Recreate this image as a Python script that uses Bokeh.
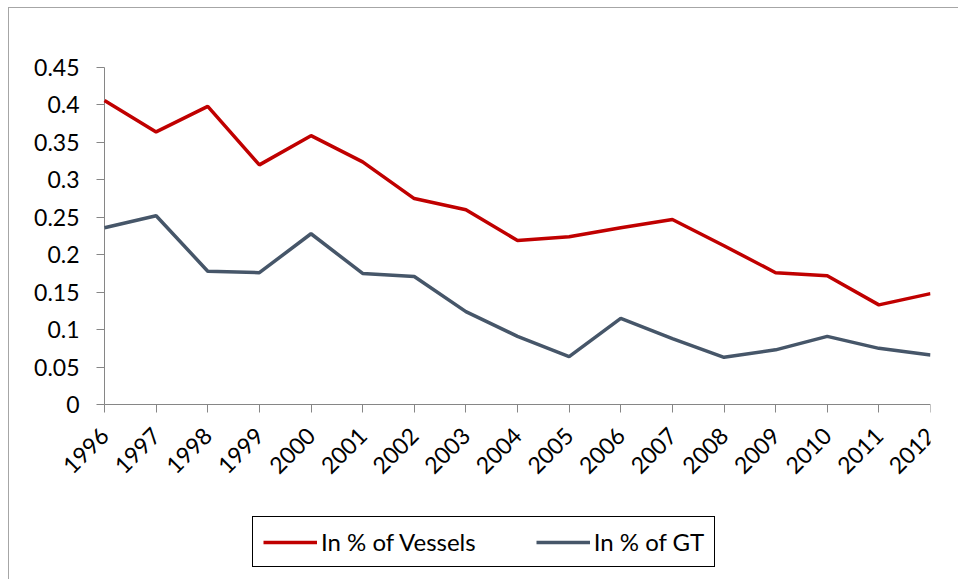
from bokeh.plotting import figure
from bokeh.models import Legend, LegendItem, FixedTicker, Range1d
from bokeh.embed import file_html
from bokeh.resources import INLINE

years = list(range(1996, 2013))
vessels = [0.406, 0.364, 0.398, 0.320, 0.359, 0.324, 0.275, 0.260, 0.219,
           0.224, 0.236, 0.247, 0.212, 0.176, 0.172, 0.133, 0.148]
gt = [0.236, 0.252, 0.178, 0.176, 0.228, 0.175, 0.171, 0.124, 0.091,
      0.064, 0.115, 0.088, 0.063, 0.073, 0.091, 0.075, 0.066]
y_ticks = [0, 0.05, 0.1, 0.15, 0.2, 0.25, 0.3, 0.35, 0.4, 0.45]
y_tick_labels = ["0", "0.05", "0.1", "0.15", "0.2", "0.25", "0.3", "0.35", "0.4", "0.45"]
series_names = ["In % of Vessels", "In % of GT"]

FONT = "Lato"
AXIS_GRAY = "#868686"

# Frame spans the canvas area x 20..930, y 40..580 so that the axes
# (pinned with fixed_location) and the legend are drawn inside it.
# Plot area proper: x 104..930 for 1996..2012, y 404..67 for 0..0.45.
x_min = years[0] - (104 - 20) * (years[-1] - years[0]) / 826
y_max = y_ticks[-1] * (404 - 40) / 337
y_min = -y_ticks[-1] * 176 / 337

p = figure(width=950, height=572, output_backend="svg", toolbar_location=None,
           x_range=Range1d(x_min, years[-1]), y_range=Range1d(y_min, y_max),
           min_border_left=11, min_border_right=29, min_border_top=32,
           min_border_bottom=0)
p.styles = {"margin-left": "8px", "margin-top": "7px",
            "border-left": "1px solid #a6a6a6", "border-top": "1px solid #a6a6a6"}
p.outline_line_color = None
p.xgrid.visible = False
p.ygrid.visible = False

# axis lines limited to the data area
p.segment(x0=[years[0]], y0=[y_ticks[0]], x1=[years[0]], y1=[y_ticks[-1]],
          line_color=AXIS_GRAY, line_width=1)
p.segment(x0=[years[0]], y0=[y_ticks[0]], x1=[years[-1]], y1=[y_ticks[0]],
          line_color=AXIS_GRAY, line_width=1)

r1 = p.line(years, vessels, line_color="#C00000", line_width=3.5)
r2 = p.line(years, gt, line_color="#465669", line_width=3.5)

for ax in (p.xaxis[0], p.yaxis[0]):
    ax.axis_line_color = None
    ax.major_tick_line_color = AXIS_GRAY
    ax.major_tick_out = 8
    ax.major_tick_in = 0
    ax.minor_tick_line_color = None
    ax.major_label_text_font = FONT
    ax.major_label_text_font_size = "23px"
    ax.major_label_text_color = "black"

p.xaxis.fixed_location = y_ticks[0]
p.xaxis.ticker = FixedTicker(ticks=years)
p.xaxis.major_label_orientation = 0.785398
p.xaxis.major_label_standoff = 19
p.yaxis.fixed_location = years[0]
p.yaxis.ticker = FixedTicker(ticks=y_ticks)
p.yaxis.major_label_overrides = {t: l for t, l in zip(y_ticks, y_tick_labels)}
p.yaxis.major_label_standoff = 17

legend = Legend(items=[LegendItem(label=series_names[0], renderers=[r1]),
                       LegendItem(label=series_names[1], renderers=[r2])],
                orientation="horizontal", location=(232, 13),
                label_text_font=FONT, label_text_font_size="24px",
                label_text_color="black",
                glyph_width=54, glyph_height=24, label_height=24,
                label_standoff=4, spacing=60, margin=0,
                padding=10, border_line_color="black", border_line_width=1.5,
                border_line_alpha=1.0, background_fill_alpha=0)
p.add_layout(legend, "center")

open("out.html", "w").write(file_html(p, INLINE))
